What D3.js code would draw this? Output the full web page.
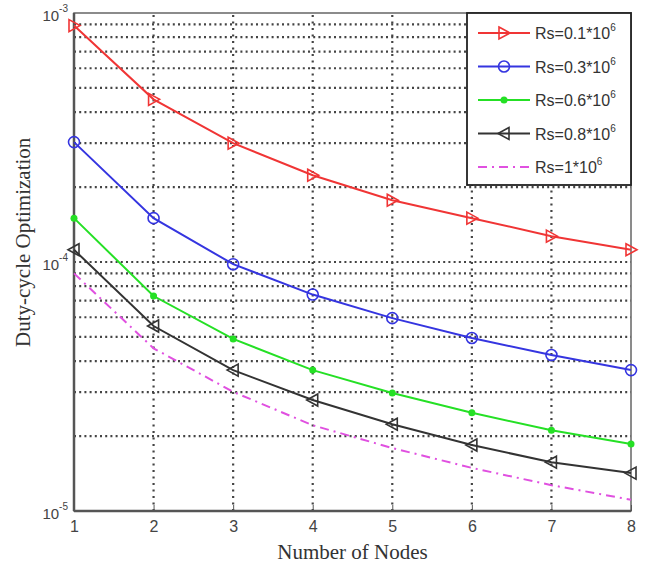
<!DOCTYPE html>
<html><head><meta charset="utf-8">
<script src="https://cdn.jsdelivr.net/npm/d3@7"></script>
<style>body{margin:0;background:#fff}svg{display:block}</style>
</head><body>
<script>
const nodes = [1,2,3,4,5,6,7,8];
const rs01 = [8.9e-4,4.5e-4,3.0e-4,2.23e-4,1.77e-4,1.50e-4,1.27e-4,1.12e-4];
const rs03 = [3.03e-4,1.50e-4,9.8e-5,7.4e-5,5.95e-5,4.95e-5,4.23e-5,3.68e-5];
const rs06 = [1.50e-4,7.3e-5,4.91e-5,3.68e-5,2.98e-5,2.48e-5,2.11e-5,1.86e-5];
const rs08 = [1.12e-4,5.53e-5,3.68e-5,2.79e-5,2.23e-5,1.84e-5,1.57e-5,1.42e-5];
const rs10 = [9.0e-5,4.5e-5,3.01e-5,2.21e-5,1.79e-5,1.49e-5,1.27e-5,1.11e-5];
const seriesNames = ["Rs=0.1*10","Rs=0.3*10","Rs=0.6*10","Rs=0.8*10","Rs=1*10"];
const yTickExps = [-5,-4,-3];
const xLabel = "Number of Nodes";
const yLabel = "Duty-cycle Optimization";

const W=654,H=573;
const m={l:74,r:23,t:13,b:62};
const svg=d3.select("body").append("svg").attr("width",W).attr("height",H);
const x=d3.scaleLinear().domain([1,8]).range([m.l,W-m.r]);
const y=d3.scaleLog().domain([1e-5,1e-3]).range([H-m.b,m.t]);

const series=[
 {name:seriesNames[0],v:rs01,color:"#f03535",marker:"triR",dash:null},
 {name:seriesNames[1],v:rs03,color:"#3535e0",marker:"circle",dash:null},
 {name:seriesNames[2],v:rs06,color:"#25e025",marker:"dot",dash:null},
 {name:seriesNames[3],v:rs08,color:"#333333",marker:"triL",dash:null},
 {name:seriesNames[4],v:rs10,color:"#e050e0",marker:null,dash:"9,5,2,5"}
];

// grid
const g=svg.append("g");
const minor=[];
for(let e=-5;e<-3;e++){for(let k=2;k<=9;k++)minor.push(k*Math.pow(10,e));}
minor.push(1e-4);
g.selectAll("line.hg").data(minor).enter().append("line")
 .attr("x1",x(1)).attr("x2",x(8)).attr("y1",d=>y(d)).attr("y2",d=>y(d))
 .attr("stroke","#444").attr("stroke-width",2.2).attr("stroke-dasharray","2,3.2");
g.selectAll("line.vg").data(nodes.slice(1,7)).enter().append("line")
 .attr("x1",d=>x(d)).attr("x2",d=>x(d)).attr("y1",y(1e-5)).attr("y2",y(1e-3))
 .attr("stroke","#444").attr("stroke-width",2.2).attr("stroke-dasharray","2,4.5");

// axes frame
const ax=svg.append("g");
ax.append("rect").attr("x",x(1)).attr("y",y(1e-3)).attr("width",x(8)-x(1)).attr("height",y(1e-5)-y(1e-3))
 .attr("fill","none").attr("stroke","#666").attr("stroke-width",1.5);
ax.append("line").attr("x1",x(1)).attr("x2",x(1)).attr("y1",y(1e-3)).attr("y2",y(1e-5)).attr("stroke","#555").attr("stroke-width",2.5);
ax.append("line").attr("x1",x(1)).attr("x2",x(8)).attr("y1",y(1e-5)).attr("y2",y(1e-5)).attr("stroke","#555").attr("stroke-width",2.5);

// x ticks
const xa=d3.axisBottom(x).tickValues(nodes).tickFormat(d3.format("d")).tickSize(-6).tickPadding(10);
const xg=svg.append("g").attr("transform",`translate(0,${y(1e-5)})`).call(xa);
xg.select(".domain").remove();
xg.selectAll("line").attr("stroke","#555");
xg.selectAll("text").attr("font-family","Liberation Sans, Arial").attr("font-size",16).attr("fill","#444");

// y tick labels
const yl=svg.append("g");
yTickExps.forEach(e=>{
  const t=yl.append("text").attr("x",x(1)-6).attr("y",y(Math.pow(10,e))+8)
   .attr("text-anchor","end").attr("font-family","Liberation Sans, Arial").attr("font-size",15).attr("fill","#444");
  t.append("tspan").text("10");
  t.append("tspan").attr("dy",-9).attr("font-size",10).text(String(e));
});

// lines
const line=d3.line().x((d,i)=>x(nodes[i])).y(d=>y(d));
function drawMarker(sel,type,color,cx,cy){
  if(type==="triR"){
    sel.append("path").attr("d",`M${cx-5},${cy-6}L${cx+6},${cy}L${cx-5},${cy+6}Z`).attr("fill","none").attr("stroke",color).attr("stroke-width",1.6);
  }else if(type==="triL"){
    sel.append("path").attr("d",`M${cx+5},${cy-6}L${cx-6},${cy}L${cx+5},${cy+6}Z`).attr("fill","none").attr("stroke",color).attr("stroke-width",1.6);
  }else if(type==="circle"){
    sel.append("circle").attr("cx",cx).attr("cy",cy).attr("r",5.5).attr("fill","none").attr("stroke",color).attr("stroke-width",1.6);
  }else if(type==="dot"){
    sel.append("circle").attr("cx",cx).attr("cy",cy).attr("r",3.5).attr("fill",color);
  }
}
series.forEach(s=>{
  svg.append("path").datum(s.v).attr("d",line).attr("fill","none").attr("stroke",s.color)
   .attr("stroke-width",2).attr("stroke-dasharray",s.dash);
  if(s.marker){
    const mg=svg.append("g");
    s.v.forEach((v,i)=>drawMarker(mg,s.marker,s.color,x(nodes[i]),y(v)));
  }
});

// legend
const lx=467,ly=13,lw=164,lh=172;
const lg=svg.append("g");
lg.append("rect").attr("x",lx).attr("y",ly).attr("width",lw).attr("height",lh).attr("fill","#fff").attr("stroke","#222").attr("stroke-width",1.8);
series.forEach((s,i)=>{
  const yy=ly+20+i*33.5;
  lg.append("line").attr("x1",lx+11).attr("x2",lx+63).attr("y1",yy).attr("y2",yy).attr("stroke",s.color).attr("stroke-width",2).attr("stroke-dasharray",s.dash);
  if(s.marker) drawMarker(lg,s.marker,s.color,lx+37,yy);
  const t=lg.append("text").attr("x",lx+68).attr("y",yy+6).attr("font-family","Liberation Sans, Arial").attr("font-size",16).attr("fill","#333");
  t.append("tspan").text(s.name);
  t.append("tspan").attr("dy",-8).attr("font-size",10).text("6");
});

// axis labels
svg.append("text").attr("x",(x(1)+x(8))/2).attr("y",559).attr("text-anchor","middle")
 .attr("font-family","Liberation Serif, Times New Roman").attr("font-size",21).attr("fill","#333").text(xLabel);
svg.append("text").attr("transform",`translate(30,347) rotate(-90)`).attr("text-anchor","start")
 .attr("font-family","Liberation Serif, Times New Roman").attr("font-size",21).attr("fill","#333").text(yLabel);
</script>
</body></html>
